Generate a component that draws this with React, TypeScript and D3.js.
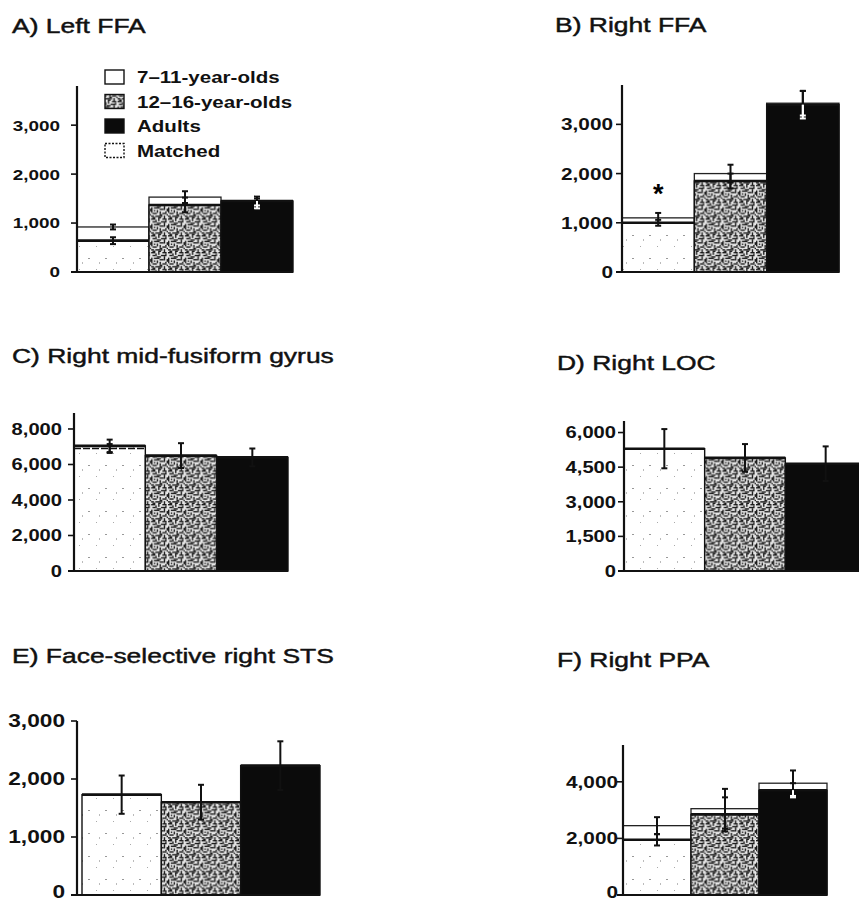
import React from "react";
import * as d3 from "d3";

// groups and panel names
const groups = ["7–11-year-olds", "12–16-year-olds", "Adults"];
const legendLabels = ["7–11-year-olds", "12–16-year-olds", "Adults", "Matched"];
const panelTitles = [
  "A) Left FFA",
  "B) Right FFA",
  "C) Right mid-fusiform gyrus",
  "D) Right LOC",
  "E) Face-selective right STS",
  "F) Right PPA",
];

// y ticks and axis tops (values)
const panelTicks = [
  [0, 1000, 2000, 3000],
  [0, 1000, 2000, 3000],
  [0, 2000, 4000, 6000, 8000],
  [0, 1500, 3000, 4500, 6000],
  [0, 1000, 2000, 3000],
  [0, 2000, 4000],
];
const panelMax = [3800, 3800, 8900, 6500, 3000, 5300];

// group means and errors
const meanValues = [
  [640, 1370, 1450],
  [1000, 1850, 3400],
  [7050, 6500, 6400],
  [5300, 4900, 4650],
  [1730, 1600, 2230],
  [1950, 2850, 3700],
];
const meanErrors = [
  [70, 150, 90],
  [60, 150, 280],
  [350, 700, 500],
  [850, 600, 750],
  [330, 300, 420],
  [200, 600, 250],
];

// matched subsets (null = not shown)
const matchedValues = [
  [920, 1530, 1400],
  [1100, 2000, 3430],
  [6900, null, null],
  [null, null, null],
  [null, null, null],
  [2450, 3050, 3950],
];
const matchedErrors = [
  [50, 120, 100],
  [100, 180, 250],
  [250, 0, 0],
  [0, 0, 0],
  [0, 0, 0],
  [300, 700, 450],
];

// significance star: [panel, group, value]
const stars = [[1, 0, 1730]];

// where each panel sits on the page
const layout = [
  { axisX: 77, barL: 77, barR: 293, y0: 272, top: 86, tickFont: 15, labelR: 60, titleX: 12, titleY: 33 },
  { axisX: 622, barL: 622, barR: 839, y0: 272, top: 85, tickFont: 16.5, labelR: 613, titleX: 555, titleY: 32 },
  { axisX: 74, barL: 74, barR: 288, y0: 571, top: 413, tickFont: 16, labelR: 62, titleX: 12, titleY: 363 },
  { axisX: 624, barL: 624, barR: 866, y0: 571, top: 421, tickFont: 16, labelR: 616, titleX: 557, titleY: 370 },
  { axisX: 77, barL: 82, barR: 320, y0: 895, top: 721, tickFont: 18, labelR: 65, titleX: 12, titleY: 663 },
  { axisX: 623, barL: 623, barR: 827, y0: 895, top: 745, tickFont: 16.5, labelR: 618, titleX: 557, titleY: 667 },
];

const H = 902;
const FONT = "'Liberation Sans', Arial, Helvetica, sans-serif";
const STRETCH = 1.26; // the scan is wider than the type
const fills = ["url(#stipple)", "url(#noise)", "#0b0b0b"];
const fmt = d3.format(",");

// little maze bits for the 12-16 texture
const noiseBits = [
  [0, 0, 3, 1], [5, 0, 1, 2], [8, 0, 3, 1], [1, 2, 2, 1], [7, 2, 4, 1], [3, 1, 1, 2],
  [0, 4, 1, 3], [2, 4, 4, 1], [9, 3, 1, 3], [4, 6, 1, 2], [6, 5, 3, 1], [11, 5, 1, 2],
  [1, 8, 3, 1], [6, 7, 1, 2], [8, 8, 3, 1], [0, 10, 2, 1], [3, 10, 4, 1], [9, 10, 1, 2],
  [5, 11, 2, 1], [11, 9, 1, 1], [2, 6, 1, 1], [7, 10, 1, 1], [10, 1, 1, 1], [4, 3, 3, 1],
  [1, 11, 2, 1], [10, 7, 1, 1], [6, 9, 2, 1], [0, 7, 1, 1],
];

const Txt = ({ x, y, size, weight = "normal", anchor = "start", heavy = 0, children }: any) => (
  <g transform={`translate(${x},${y}) scale(${STRETCH},1)`}>
    <text textAnchor={anchor} fontSize={size} fontWeight={weight} fontFamily={FONT} fill="#111"
      stroke={heavy ? "#111" : "none"} strokeWidth={heavy}>
      {children}
    </text>
  </g>
);

const ErrorBar = ({ cx, y, mean, err, splitAt }: any) => {
  const hi = y(mean + err);
  const lo = y(mean - err);
  const cap = 3;
  if (splitAt == null) {
    return (
      <g stroke="#111" strokeWidth={2}>
        <line x1={cx} x2={cx} y1={hi} y2={lo} />
        <line x1={cx - cap} x2={cx + cap} y1={hi} y2={hi} />
        <line x1={cx - cap} x2={cx + cap} y1={lo} y2={lo} />
      </g>
    );
  }
  // part inside the black bar is white
  const s = Math.max(splitAt, hi);
  return (
    <g strokeWidth={2}>
      <line x1={cx} x2={cx} y1={hi} y2={s} stroke="#111" />
      <line x1={cx - cap} x2={cx + cap} y1={hi} y2={hi} stroke={hi < splitAt ? "#111" : "#fff"} />
      <line x1={cx} x2={cx} y1={s} y2={lo} stroke="#fff" />
      <line x1={cx - cap} x2={cx + cap} y1={lo} y2={lo} stroke="#fff" />
    </g>
  );
};

const Panel = ({ i }: { i: number }) => {
  const L = layout[i];
  const y = d3.scaleLinear().domain([0, panelMax[i]]).range([L.y0, L.top]);
  const x = d3.scaleBand().domain(groups).range([L.barL, L.barR]).padding(0);
  const bw = x.bandwidth();

  return (
    <g>
      <Txt x={L.titleX} y={L.titleY} size={21} heavy={0.45}>{panelTitles[i]}</Txt>

      {/* matched boxes behind */}
      {groups.map((g, j) => {
        const m = matchedValues[i][j];
        if (m == null || m <= meanValues[i][j]) return null;
        return (
          <rect key={"m" + j} x={x(g)} y={y(m)} width={bw} height={L.y0 - y(m)}
            fill="#fff" stroke="#222" strokeWidth={1.3} />
        );
      })}

      {/* main bars */}
      {groups.map((g, j) => (
        <g key={"b" + j}>
          <rect x={x(g)} y={y(meanValues[i][j])} width={bw} height={L.y0 - y(meanValues[i][j])}
            fill={fills[j]} stroke="#111" strokeWidth={1.4} />
          <line x1={x(g)} x2={x(g)! + bw} y1={y(meanValues[i][j])} y2={y(meanValues[i][j])}
            stroke="#111" strokeWidth={2.6} />
        </g>
      ))}

      {/* matched level lying inside a taller bar */}
      {groups.map((g, j) => {
        const m = matchedValues[i][j];
        if (m == null || m > meanValues[i][j] || j === 2) return null;
        return (
          <line key={"d" + j} x1={x(g)} x2={x(g)! + bw} y1={y(m)} y2={y(m)}
            stroke="#111" strokeWidth={1.6} strokeDasharray="7,2" />
        );
      })}

      {/* error bars */}
      {groups.map((g, j) => {
        const cx = x(g)! + bw / 2;
        const hasM = matchedValues[i][j] != null;
        const split = j === 2 && hasM ? y(meanValues[i][j]) : null;
        return (
          <g key={"e" + j}>
            {hasM && (
              <ErrorBar cx={cx} y={y} mean={matchedValues[i][j]} err={matchedErrors[i][j]}
                splitAt={j === 2 ? y(Math.min(meanValues[i][j], matchedValues[i][j]!)) : null} />
            )}
            <ErrorBar cx={cx} y={y} mean={meanValues[i][j]} err={meanErrors[i][j]} splitAt={split} />
          </g>
        );
      })}

      {stars.filter((s) => s[0] === i).map((s, k) => (
        <text key={"s" + k} x={x(groups[s[1]])! + bw / 2} y={y(s[2])} dy="0.6em"
          textAnchor="middle" fontSize={27} fontWeight="bold" fontFamily={FONT}>*</text>
      ))}

      {/* axes */}
      <line x1={L.axisX} x2={L.axisX} y1={L.y0} y2={L.top} stroke="#111" strokeWidth={2.2} />
      <line x1={L.axisX - 6} x2={L.barR} y1={L.y0} y2={L.y0} stroke="#111" strokeWidth={1.8} />
      {panelTicks[i].map((t) => {
        // keep the lowest labels inside the page
        const base = Math.min(y(t) + 0.36 * L.tickFont, H - 0.22 * L.tickFont);
        return (
          <g key={t}>
            <line x1={L.axisX - 6} x2={L.axisX} y1={y(t)} y2={y(t)} stroke="#111" strokeWidth={1.6} />
            <g transform={`translate(${L.labelR},${base}) scale(${STRETCH},1)`}>
              <text textAnchor="end" fontSize={L.tickFont} fontWeight="bold" fontFamily={FONT} fill="#111">
                {fmt(t)}
              </text>
            </g>
          </g>
        );
      })}
    </g>
  );
};

const Legend = () => {
  const legendFills = ["#fff", "url(#noise)", "#0b0b0b", "#fff"];
  return (
    <g>
      {legendLabels.map((lab, k) => {
        const top = 70 + k * 24.5;
        return (
          <g key={lab}>
            <rect x={105} y={top} width={19} height={14} fill={legendFills[k]}
              stroke="#111" strokeWidth={1.4} strokeDasharray={k === 3 ? "2,1.5" : undefined} />
            <Txt x={137} y={top + 13} size={16.3} weight="bold">{lab}</Txt>
          </g>
        );
      })}
    </g>
  );
};

export default function App() {
  return (
    <svg width={859} height={H} style={{ position: "absolute", left: 0, top: 0, background: "#fff" }}>
      <defs>
        <pattern id="noise" width={12} height={12} patternUnits="userSpaceOnUse"
          patternTransform="scale(1.4)">
          <rect width={12} height={12} fill="#e6e6e6" />
          {noiseBits.map((b, k) => (
            <rect key={k} x={b[0]} y={b[1]} width={b[2]} height={b[3]} fill="#1a1a1a" />
          ))}
        </pattern>
        <pattern id="stipple" width={17} height={23} patternUnits="userSpaceOnUse">
          <rect width={17} height={23} fill="#fff" />
          <rect x={3} y={5} width={2} height={1} fill="#999" />
          <rect x={11} y={16} width={1} height={1} fill="#aaa" />
          <rect x={14} y={9} width={1} height={2} fill="#bbb" />
        </pattern>
      </defs>
      {panelTitles.map((_, i) => (
        <Panel key={i} i={i} />
      ))}
      <Legend />
    </svg>
  );
}
